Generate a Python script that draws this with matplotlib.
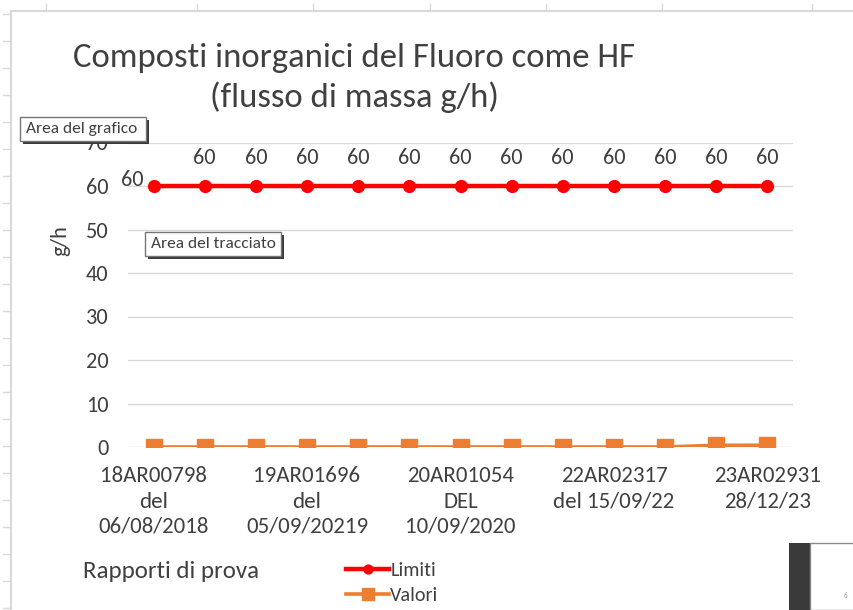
import matplotlib
matplotlib.use("Agg")
import matplotlib.pyplot as plt
from matplotlib.patches import Rectangle
from matplotlib.lines import Line2D

# dati del grafico
n_rapporti = 13
limiti = [60, 60, 60, 60, 60, 60, 60, 60, 60, 60, 60, 60, 60]
valori = [0, 0, 0, 0, 0, 0, 0, 0, 0, 0, 0, 0.4, 0.4]
tick_pos = [0, 3, 6, 9, 12]
tick_labels = ["18AR00798\ndel\n06/08/2018",
               "19AR01696\ndel\n05/09/20219",
               "20AR01054\nDEL\n10/09/2020",
               "22AR02317\ndel 15/09/22",
               "23AR02931\n28/12/23"]
y_ticks = [0, 10, 20, 30, 40, 50, 60, 70]

W, H = 854, 610
grigio = "#404040"
plt.rcParams['font.family'] = ['Carlito', 'DejaVu Sans']


def fx(x):
    return x / W


def fy(y):
    return 1 - y / H


fig = plt.figure(figsize=(W / 100, H / 100), dpi=100)
fig.patch.set_facecolor("white")

# bordi del foglio Excel dietro al grafico
fig.add_artist(Line2D([fx(11), fx(854)], [fy(11), fy(11)], color="#D9D9D9", lw=1.5))
fig.add_artist(Line2D([fx(11), fx(11)], [fy(11), fy(610)], color="#D9D9D9", lw=1.5))
for x in [46, 197, 313, 430, 546, 662, 812]:
    fig.add_artist(Line2D([fx(x), fx(x)], [fy(4), fy(11)], color="#D9D9D9", lw=1))
for y in range(14, 610, 27):
    fig.add_artist(Line2D([fx(3), fx(11)], [fy(y), fy(y)], color="#D9D9D9", lw=1))

ax = fig.add_axes([fx(128), fy(447), fx(793) - fx(128), fy(142.5) - fy(447)])
x = list(range(n_rapporti))

ax.plot(x, valori, color="#ED7D31", lw=2.6, marker="s", ms=11, zorder=3, label="Valori")
ax.plot(x, limiti, color="#FF0000", lw=3.2, marker="o", ms=8.5, zorder=4, label="Limiti")

# etichette dati
for i, v in enumerate(limiti):
    if i == 0:
        ax.annotate(f"{v}", (i, v), xytext=(-7, 4), textcoords="offset points",
                    ha="right", va="center", fontsize=16, color=grigio)
    else:
        ax.annotate(f"{v}", (i, v), xytext=(0, 20), textcoords="offset points",
                    ha="center", va="center", fontsize=16, color=grigio)

ax.set_xlim(-0.5, n_rapporti - 0.5)
ax.set_ylim(0, 70)
ax.set_yticks(y_ticks)
ax.set_xticks(tick_pos)
ax.set_xticklabels(tick_labels, fontsize=16.5, color=grigio, linespacing=1.32)
ax.tick_params(axis="y", length=0, pad=14, labelsize=16, labelcolor=grigio)
ax.tick_params(axis="x", length=0, pad=14)
ax.grid(axis="y", color="#D9D9D9", lw=1)
ax.set_axisbelow(True)
for s in ax.spines.values():
    s.set_visible(False)

# titolo
fig.text(fx(354), fy(78), "Composti inorganici del Fluoro come HF\n(flusso di massa g/h)",
         ha="center", va="center", fontsize=25, color=grigio, linespacing=1.32)
fig.text(fx(60), fy(241), "g/h", rotation=90, ha="center", va="center", fontsize=16, color=grigio)
fig.text(fx(83), fy(572), "Rapporti di prova", ha="left", va="center", fontsize=18, color=grigio)

# legenda
h, l = ax.get_legend_handles_labels()
leg = fig.legend(h[::-1], l[::-1], loc="upper left", bbox_to_anchor=(fx(336), fy(552)),
                 frameon=False, fontsize=14.5, handlelength=2.15, handletextpad=0.05,
                 labelspacing=0.4, borderpad=0, markerscale=0.75)
for t in leg.get_texts():
    t.set_color(grigio)


# riquadri suggerimento di Excel
def tooltip(x0, y0, x1, y1, testo):
    fig.add_artist(Rectangle((fx(x0 + 3), fy(y1 + 3)), fx(x1 - x0), fy(y0) - fy(y1),
                             transform=fig.transFigure, facecolor="#3A3A3A", edgecolor="none", zorder=10))
    fig.add_artist(Rectangle((fx(x0), fy(y1)), fx(x1 - x0), fy(y0) - fy(y1),
                             transform=fig.transFigure, facecolor="white", edgecolor="#767676", lw=1, zorder=11))
    fig.text(fx(x0 + 6), fy((y0 + y1) / 2), testo, ha="left", va="center", fontsize=12.5,
             color="#404040", zorder=12)


tooltip(20, 117, 146, 141, "Area del grafico")
tooltip(145, 232, 281, 256, "Area del tracciato")

# finestra in basso a destra
fig.add_artist(Rectangle((fx(789), 0), fx(21), fy(543), transform=fig.transFigure,
                         facecolor="#3A3A3A", edgecolor="none", zorder=10))
fig.add_artist(Rectangle((fx(810), 0), fx(50), fy(543), transform=fig.transFigure,
                         facecolor="white", edgecolor="#8A8A8A", lw=1, zorder=10))
fig.text(fx(845), fy(595), "6", fontsize=5, color="#999999", ha="center", va="center", zorder=11)

fig.savefig("out.png", dpi=100)
